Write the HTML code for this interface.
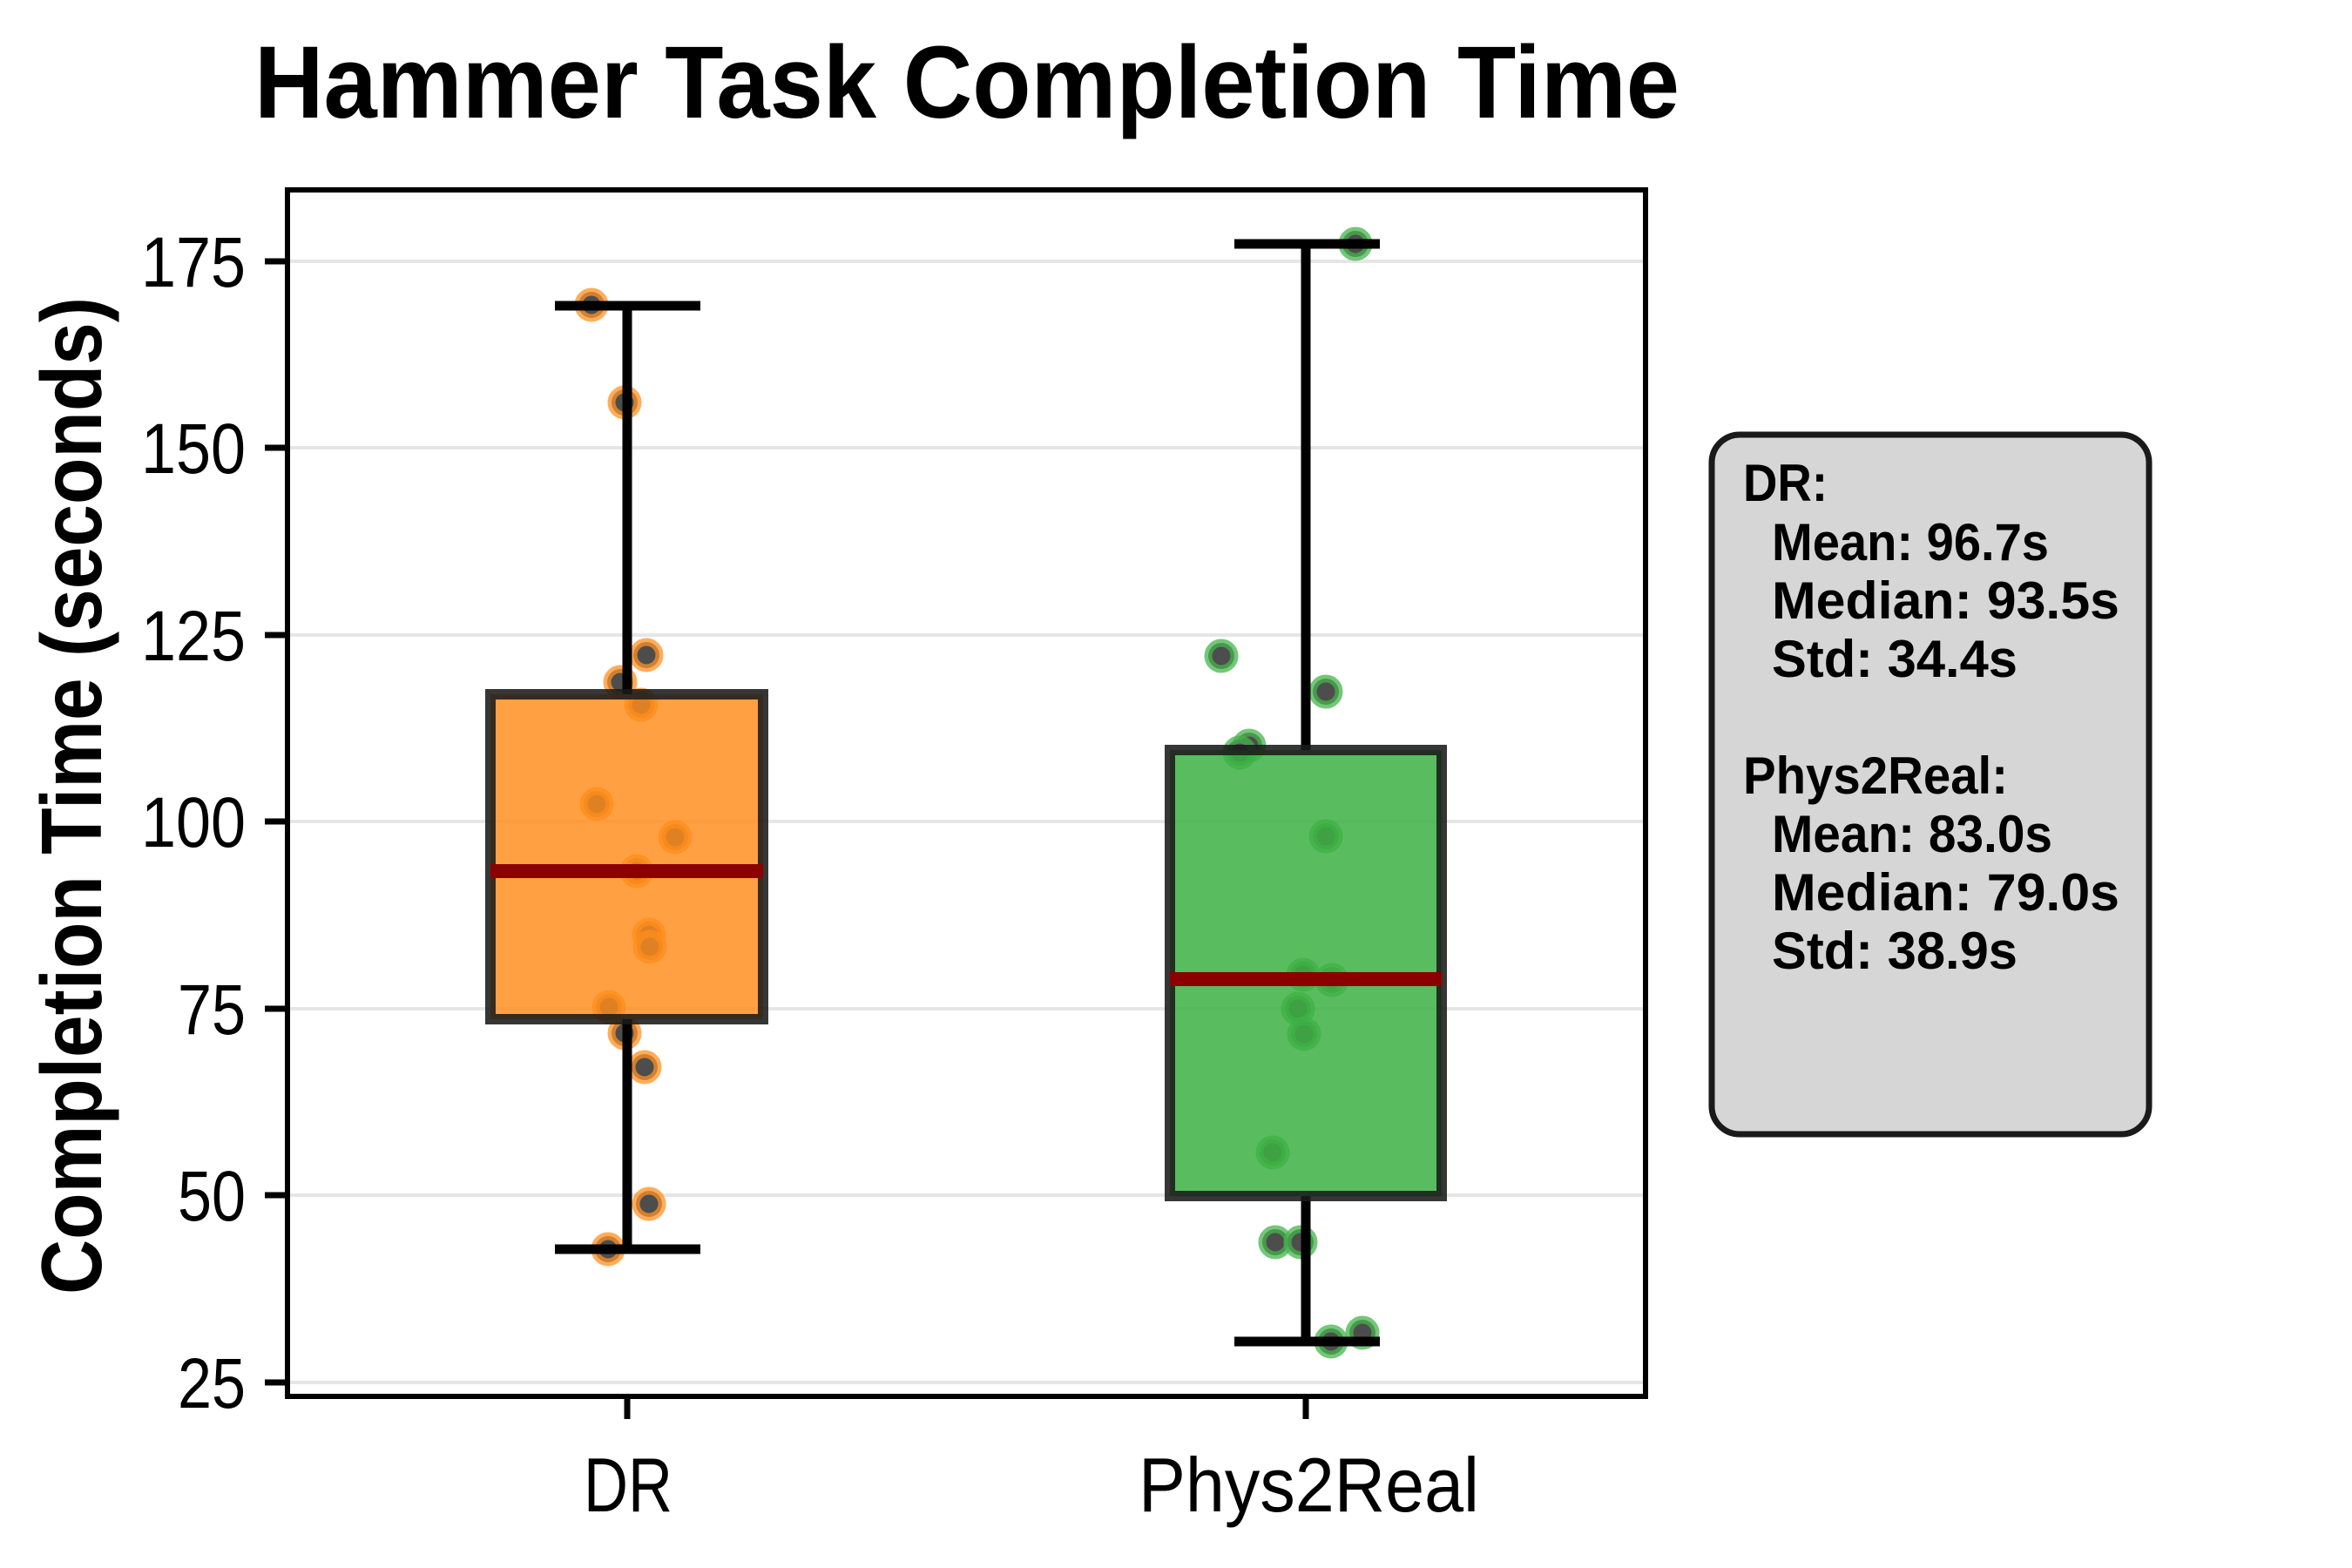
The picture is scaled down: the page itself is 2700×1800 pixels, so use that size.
<!DOCTYPE html>
<html><head><meta charset="utf-8"><style>html,body{margin:0;padding:0;background:#fff}svg{display:block}</style></head>
<body>
<svg width="2700" height="1800" viewBox="0 0 2700 1800" xmlns="http://www.w3.org/2000/svg" font-family="'Liberation Sans', 'DejaVu Sans', sans-serif">
<rect width="2700" height="1800" fill="#fff"/>
<text x="292" y="135" font-size="118" font-weight="bold" textLength="1636" lengthAdjust="spacingAndGlyphs">Hammer Task Completion Time</text>
<!-- gridlines -->
<g stroke="#e6e6e6" stroke-width="4">
<line x1="330" x2="1889" y1="300" y2="300"/><line x1="330" x2="1889" y1="514" y2="514"/>
<line x1="330" x2="1889" y1="729" y2="729"/><line x1="330" x2="1889" y1="943" y2="943"/>
<line x1="330" x2="1889" y1="1158" y2="1158"/><line x1="330" x2="1889" y1="1372" y2="1372"/>
<line x1="330" x2="1889" y1="1587" y2="1587"/>
</g>
<!-- points DR -->
<g fill="#444" stroke="#ff8c1a" stroke-opacity="0.75" stroke-width="9" opacity="0.95">
<circle cx="679" cy="350" r="15"/><circle cx="717" cy="462" r="15"/><circle cx="742" cy="752" r="15"/>
<circle cx="712" cy="783" r="15"/><circle cx="736" cy="809" r="15"/><circle cx="685" cy="923" r="15"/>
<circle cx="775" cy="961" r="15"/><circle cx="731" cy="1000" r="15"/><circle cx="745" cy="1073" r="15"/>
<circle cx="746" cy="1087" r="15"/><circle cx="699" cy="1156" r="15"/><circle cx="717" cy="1186" r="15"/>
<circle cx="740" cy="1225" r="15"/><circle cx="745" cy="1382" r="15"/><circle cx="698" cy="1434" r="15"/>
</g>
<g fill="#444" stroke="#3cb043" stroke-opacity="0.75" stroke-width="9" opacity="0.95">
<circle cx="1556" cy="280" r="15"/><circle cx="1402" cy="753" r="15"/><circle cx="1522" cy="794" r="15"/>
<circle cx="1434" cy="856" r="15"/><circle cx="1423" cy="864" r="15"/><circle cx="1522" cy="960" r="15"/>
<circle cx="1496" cy="1119" r="15"/><circle cx="1529" cy="1125" r="15"/><circle cx="1490" cy="1158" r="15"/>
<circle cx="1497" cy="1187" r="15"/><circle cx="1461" cy="1323" r="15"/><circle cx="1464" cy="1426" r="15"/>
<circle cx="1493" cy="1426" r="15"/><circle cx="1528" cy="1540" r="15"/><circle cx="1564" cy="1530" r="15"/>
</g>
<!-- whiskers -->
<g stroke="#000" stroke-width="11">
<line x1="720" x2="720" y1="351" y2="797"/><line x1="720" x2="720" y1="1170" y2="1434"/>
<line x1="637" x2="804" y1="351" y2="351"/><line x1="637" x2="804" y1="1434" y2="1434"/>
<line x1="1499" x2="1499" y1="280" y2="861"/><line x1="1499" x2="1499" y1="1373" y2="1540"/>
<line x1="1417" x2="1584" y1="280" y2="280"/><line x1="1417" x2="1584" y1="1540" y2="1540"/>
</g>
<!-- boxes -->
<rect x="563" y="797" width="313" height="373" fill="#ff8c1a" fill-opacity="0.82" stroke="#1a1a1a" stroke-opacity="0.88" stroke-width="12"/>
<rect x="1343" y="861" width="312" height="512" fill="#3cb043" fill-opacity="0.85" stroke="#1a1a1a" stroke-opacity="0.88" stroke-width="12"/>
<line x1="563" x2="876" y1="1000" y2="1000" stroke="#8b0000" stroke-width="16"/>
<line x1="1343" x2="1655" y1="1124" y2="1124" stroke="#8b0000" stroke-width="16"/>
<!-- axes -->
<rect x="330" y="218" width="1559" height="1385" fill="none" stroke="#000" stroke-width="6"/>
<g stroke="#000" stroke-width="7">
<line x1="304" x2="330" y1="300" y2="300"/><line x1="304" x2="330" y1="514" y2="514"/>
<line x1="304" x2="330" y1="729" y2="729"/><line x1="304" x2="330" y1="943" y2="943"/>
<line x1="304" x2="330" y1="1158" y2="1158"/><line x1="304" x2="330" y1="1372" y2="1372"/>
<line x1="304" x2="330" y1="1587" y2="1587"/>
<line x1="720" x2="720" y1="1603" y2="1629"/><line x1="1499" x2="1499" y1="1603" y2="1629"/>
</g>
<g font-size="82" text-anchor="end">
<text x="282" y="329" textLength="120" lengthAdjust="spacingAndGlyphs">175</text>
<text x="282" y="543" textLength="120" lengthAdjust="spacingAndGlyphs">150</text>
<text x="282" y="758" textLength="120" lengthAdjust="spacingAndGlyphs">125</text>
<text x="282" y="972" textLength="120" lengthAdjust="spacingAndGlyphs">100</text>
<text x="282" y="1187" textLength="78" lengthAdjust="spacingAndGlyphs">75</text>
<text x="282" y="1401" textLength="78" lengthAdjust="spacingAndGlyphs">50</text>
<text x="282" y="1616" textLength="78" lengthAdjust="spacingAndGlyphs">25</text>
</g>
<g font-size="88">
<text x="670" y="1735" textLength="102" lengthAdjust="spacingAndGlyphs">DR</text>
<text x="1307" y="1735" textLength="391" lengthAdjust="spacingAndGlyphs">Phys2Real</text>
</g>
<text transform="translate(116,1486) rotate(-90)" font-size="98" font-weight="bold" textLength="1145" lengthAdjust="spacingAndGlyphs">Completion Time (seconds)</text>
<!-- stats box -->
<rect x="1965" y="499" width="502" height="803" rx="32" fill="#d6d6d6" stroke="#1a1a1a" stroke-width="7"/>
<g font-size="60" font-weight="bold">
<text x="2001" y="575" textLength="97" lengthAdjust="spacingAndGlyphs">DR:</text>
<text x="2034" y="643" textLength="318" lengthAdjust="spacingAndGlyphs">Mean: 96.7s</text>
<text x="2034" y="710" textLength="399" lengthAdjust="spacingAndGlyphs">Median: 93.5s</text>
<text x="2034" y="777" textLength="282" lengthAdjust="spacingAndGlyphs">Std: 34.4s</text>
<text x="2001" y="911" textLength="304" lengthAdjust="spacingAndGlyphs">Phys2Real:</text>
<text x="2034" y="978" textLength="322" lengthAdjust="spacingAndGlyphs">Mean: 83.0s</text>
<text x="2034" y="1045" textLength="399" lengthAdjust="spacingAndGlyphs">Median: 79.0s</text>
<text x="2034" y="1112" textLength="282" lengthAdjust="spacingAndGlyphs">Std: 38.9s</text>
</g>
</svg>
</body></html>
